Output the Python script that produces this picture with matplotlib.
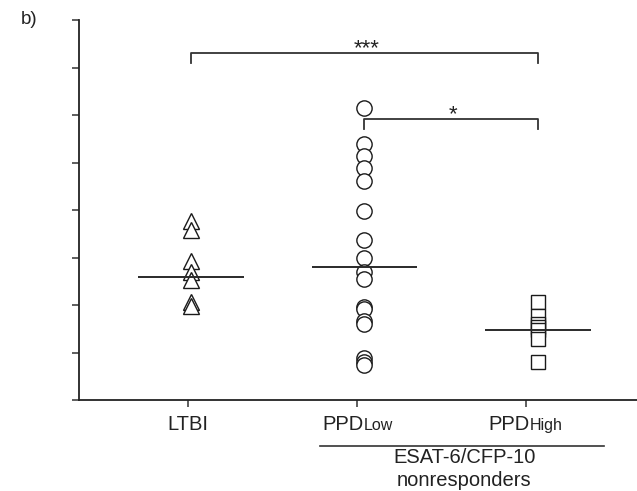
import matplotlib
matplotlib.use("Agg")
import matplotlib.pyplot as plt
from matplotlib.transforms import IdentityTransform, blended_transform_factory

plt.rcParams['font.family'] = ['Liberation Sans', 'DejaVu Sans']

# ---------------- data ----------------
groups = ["LTBI", "PPD_Low", "PPD_High"]
label_main = ["LTBI", "PPD", "PPD"]
label_sub = ["", "Low", "High"]

ltbi_vals = [3.77, 3.58, 2.93, 2.69, 2.53, 2.06, 1.98]
ppd_low_vals = [6.14, 5.40, 5.14, 4.88, 4.62, 3.98, 3.37, 2.99, 2.70, 2.55,
                1.96, 1.92, 1.67, 1.61, 0.88, 0.81, 0.74]
ppd_high_vals = [2.07, 1.76, 1.60, 1.54, 1.48, 1.28, 0.80]
group_lines = [2.60, 2.81, 1.47]

# significance brackets: (from group, to group, level, label)
brackets = [(0, 2, 7.30, "***"), (1, 2, 5.91, "*")]

group_title = ["ESAT-6/CFP-10", "nonresponders"]

# ---------------- figure ----------------
W, H = 637, 491
fig = plt.figure(figsize=(W / 100, H / 100), dpi=100)
ax = fig.add_axes([79 / W, (H - 400) / H, (W - 79) / W, 380 / H])

series = [ltbi_vals, ppd_low_vals, ppd_high_vals]
markers = ["^", "o", "s"]
msizes = [12, 11, 10]
ec = "#1a1a1a"
for i, (vals, m, ms) in enumerate(zip(series, markers, msizes)):
    for v in sorted(vals, reverse=True):
        ax.plot([i], [v], marker=m, ms=ms, mfc="white", mec=ec, mew=1.0,
                ls="none", zorder=3)
    ax.hlines(group_lines[i], i - 0.305, i + 0.305, color="#2a2a2a",
              lw=1.4, zorder=4)

ax.set_xlim(-0.645, 2.571)
ax.set_ylim(0, 8)
ax.set_yticks(range(0, 9))
ax.set_yticklabels([])
tick_shift = [-0.017, -0.04, -0.07]
ax.set_xticks([i + s for i, s in enumerate(tick_shift)])
ax.set_xticklabels([])
for s in ["top", "right"]:
    ax.spines[s].set_visible(False)
for s in ["left", "bottom"]:
    ax.spines[s].set_linewidth(1.3)
    ax.spines[s].set_color("#222222")
ax.tick_params(direction="out", length=5, width=1.1, color="#333333")

# brackets
for a, b, y, lab in brackets:
    ax.plot([a, a, b, b], [y - 0.21, y, y, y - 0.21], color="#333333",
            lw=1.3, clip_on=False)
    ax.text((a + b) / 2 + 0.01, y - 0.02, lab, ha="center", va="baseline",
            fontsize=16, color="#222222")

# x tick labels (main + smaller subscript on same baseline)
fig.canvas.draw()
renderer = fig.canvas.get_renderer()
base_y = H - 430  # display pixel baseline
for i, (mn, sb) in enumerate(zip(label_main, label_sub)):
    cx = ax.transData.transform((i + tick_shift[i], 0))[0]
    t1 = ax.text(0, base_y, mn, transform=IdentityTransform(), ha="left",
                 va="baseline", fontsize=14.5, color="#222222")
    t2 = ax.text(0, base_y, sb, transform=IdentityTransform(), ha="left",
                 va="baseline", fontsize=11.5, color="#222222")
    w1 = t1.get_window_extent(renderer).width
    w2 = t2.get_window_extent(renderer).width if sb else 0
    x0 = cx - (w1 + w2) / 2
    t1.set_x(x0)
    t2.set_x(x0 + w1)

# group line and title
tr = blended_transform_factory(ax.transData, ax.transAxes)
ax.plot([0.745, 2.382], [-0.121, -0.121], color="#333333", lw=1.2,
        transform=tr, clip_on=False)
ax.text(1.575, -0.165, group_title[0], transform=tr, ha="center",
        va="baseline", fontsize=14.5, color="#222222")
ax.text(1.575, -0.2258, group_title[1], transform=tr, ha="center",
        va="baseline", fontsize=14.5, color="#222222")

fig.text(21 / W, 1 - 24 / H, "b)", ha="left", va="baseline", fontsize=13.5,
         color="#222222")

fig.savefig("out.png", dpi=100)
